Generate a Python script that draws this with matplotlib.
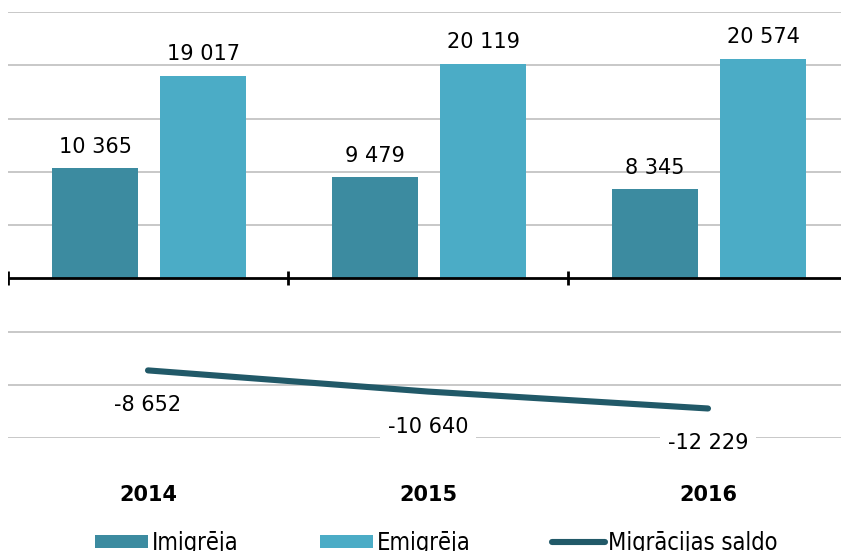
import matplotlib.pyplot as plt

## data
years = ['2014', '2015', '2016']
imigreja = [10365, 9479, 8345]
emigreja = [19017, 20119, 20574]
saldo = [-8652, -10640, -12229]

col_imi = '#3C8BA0'
col_emi = '#4BACC6'
col_saldo = '#215968'

def fmt(v):
    return '{:,}'.format(v).replace(',', ' ')

fig = plt.figure(figsize=(8.41, 5.51), dpi=100)
ax = fig.add_axes([8/841, 113/551, 840/841, 426/551])

x = list(range(len(years)))
w = 0.307
off1 = 0.189
off2 = 0.198
b1 = ax.bar([i - off1 for i in x], imigreja, width=w, color=col_imi, zorder=3, label='Imigrēja')
b2 = ax.bar([i + off2 for i in x], emigreja, width=w, color=col_emi, zorder=3, label='Emigrēja')
ln, = ax.plot(x, saldo, color=col_saldo, lw=4.4, solid_capstyle='round', zorder=4, label='Migrācijas saldo')

for i in x:
    ax.annotate(fmt(imigreja[i]), (i - off1, imigreja[i]), xytext=(0, 21), textcoords='offset pixels',
                ha='center', va='center', fontsize=15)
    ax.annotate(fmt(emigreja[i]), (i + off2, emigreja[i]), xytext=(0, 22), textcoords='offset pixels',
                ha='center', va='center', fontsize=15)
    ax.annotate(fmt(saldo[i]), (i, saldo[i]), xytext=(0, -35), textcoords='offset pixels',
                ha='center', va='center', fontsize=15, zorder=5,
                bbox=dict(boxstyle='square,pad=0.35', fc='white', ec='none'))

ax.set_xlim(-0.5, 2.5)
ax.set_ylim(-15000, 25000)

# gridlines (zero is the black axis line)
for g in range(-15000, 25001, 5000):
    if g != 0:
        ax.axhline(g, color='#BFBFBF', lw=1.2, zorder=1)
ax.axhline(0, color='black', lw=2, zorder=4)
ax.vlines([-0.5, 0.5, 1.5, 2.5], -650, 650, color='black', lw=2, zorder=4)

for s in ax.spines.values():
    s.set_visible(False)
ax.set_yticks([])
ax.set_xticks(x)
ax.set_xticklabels(years, fontsize=15, fontweight='bold')
ax.tick_params(axis='x', length=0, pad=34)

fig.legend(handles=[b1, b2, ln], loc='upper left', bbox_to_anchor=(95/841, 1 - 531/551),
           ncol=3, frameon=False, handlelength=2.25, handleheight=0.5,
           handletextpad=0.15, columnspacing=3.45, borderaxespad=0, borderpad=0,
           prop=dict(size=17, stretch='condensed'))

fig.savefig('out.png', dpi=100)
